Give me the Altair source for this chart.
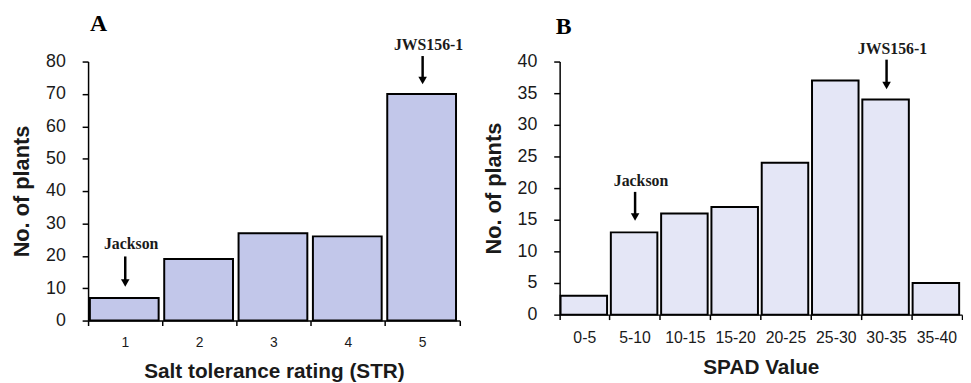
import altair as alt
import pandas as pd

# ---------------- data ----------------
A_categories = ["1", "2", "3", "4", "5"]
A_counts = [7, 19, 27, 26, 70]
A_y_ticks = [0, 10, 20, 30, 40, 50, 60, 70, 80]
A_ann_labels = ["Jackson", "JWS156-1"]
A_ann_cats = ["1", "5"]
A_ann_text_y = [23.5, 85.0]
A_ann_top = [19.8, 81.7]
A_ann_tip = [10.4, 72.9]

B_categories = ["0-5", "5-10", "10-15", "15-20", "20-25", "25-30", "30-35", "35-40"]
B_counts = [3, 13, 16, 17, 24, 37, 34, 5]
B_y_ticks = [0, 5, 10, 15, 20, 25, 30, 35, 40]
B_ann_labels = ["Jackson", "JWS156-1"]
B_ann_cats = ["5-10", "30-35"]
B_ann_text_y = [21.1, 42.0]
B_ann_top = [19.4, 40.3]
B_ann_tip = [14.8, 35.6]

TEXT = "#1a1a1a"


def panel(cats, counts, yticks, ymax, ann_labels, ann_cats, ann_text, ann_top, ann_tip,
          fill, letter, letter_dx, xtitle, xlabel_size, width, height):
    bars_df = pd.DataFrame({"cat": cats, "n": counts})
    ann_df = pd.DataFrame({"cat": ann_cats, "label": ann_labels, "ty": ann_text,
                           "top": ann_top, "tip": ann_tip})
    xscale = alt.Scale(domain=cats, paddingInner=0, paddingOuter=0)
    yscale = alt.Scale(domain=[0, ymax], nice=False)
    xaxis = alt.Axis(title=xtitle, labelAngle=0, bandPosition=1, tickExtra=True,
                     tickSize=5, labelPadding=10, labelFontSize=xlabel_size,
                     titleFontSize=21, titlePadding=12)
    yaxis = alt.Axis(title="No. of plants", values=yticks, tickSize=6, labelPadding=17,
                     labelFontSize=18, titleFontSize=22, titlePadding=12)
    x = alt.X("cat:N", scale=xscale, sort=cats, axis=xaxis)

    def y(field):
        return alt.Y(field, type="quantitative", scale=yscale, axis=yaxis)

    bars = alt.Chart(bars_df).mark_bar(
        width={"band": 0.925}, xOffset=-1, fill=fill, stroke="black", strokeWidth=2
    ).encode(x=x, y=y("n"))
    rules = alt.Chart(ann_df).mark_rule(color="black", strokeWidth=2.5, y2Offset=-4).encode(
        x=x, y=y("top"), y2="tip:Q"
    )
    heads = alt.Chart(ann_df).mark_point(
        shape="triangle-down", filled=True, size=75, color="black", opacity=1, yOffset=-4
    ).encode(x=x, y=y("tip"))
    texts = alt.Chart(ann_df).mark_text(
        font="Liberation Serif", fontWeight="bold", fontSize=16, dx=6, color=TEXT
    ).encode(x=x, y=y("ty"), text="label:N")
    return alt.layer(bars, rules, heads, texts).properties(
        width=width, height=height,
        title=alt.TitleParams(letter, anchor="start", frame="group", dx=letter_dx,
                              font="Liberation Serif", fontSize=24,
                              fontWeight="bold", offset=2, color="black"),
    )


A = panel(A_categories, A_counts, A_y_ticks, 80, A_ann_labels, A_ann_cats, A_ann_text_y,
          A_ann_top, A_ann_tip, "#c2c7ea", "A", 2, "Salt tolerance rating (STR)", 14, 376, 262)
B = panel(B_categories, B_counts, B_y_ticks, 40, B_ann_labels, B_ann_cats, B_ann_text_y,
          B_ann_top, B_ann_tip, "#e4e6f6", "B", -4, "SPAD Value", 16, 407, 256)

chart = alt.hconcat(A, B, spacing=18).properties(
    padding={"left": 2, "top": 1, "right": 0, "bottom": 0}
).configure_view(stroke=None).configure_axis(
    domainColor="black", domainWidth=1.5, tickColor="black", tickWidth=1.5, grid=False,
    labelFont="Liberation Sans", titleFont="Liberation Sans", labelColor=TEXT,
    titleColor=TEXT, titleFontWeight="bold"
)

chart.save("out.html", embed_options={"renderer": "svg", "actions": False})
